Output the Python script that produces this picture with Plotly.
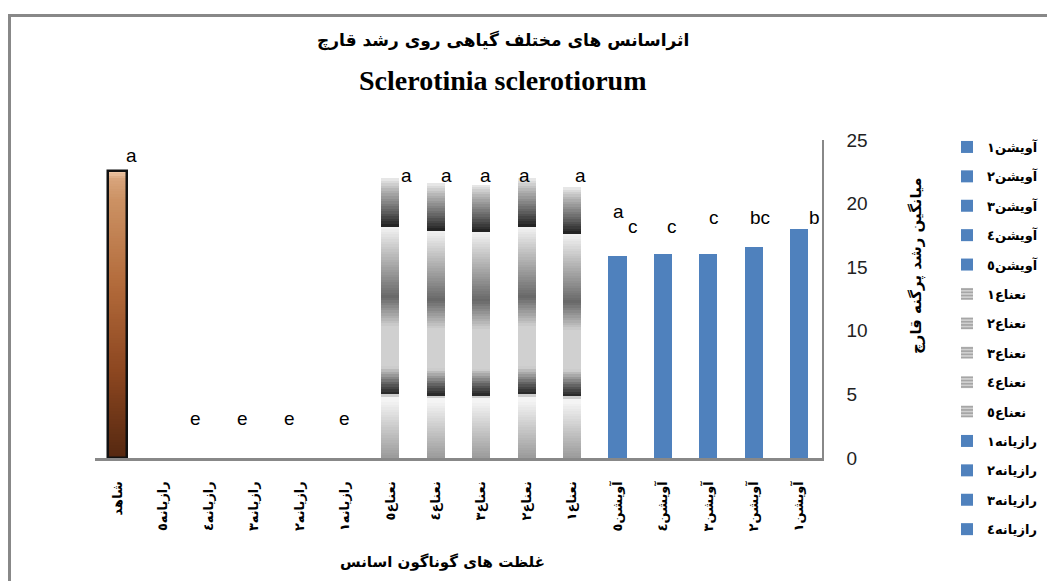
import plotly.graph_objects as go

# ---------------- data ----------------
control_label = "شاهد"
control_value = 22.6

fennel_labels = ["رازیانه٥", "رازیانه٤", "رازیانه٣", "رازیانه٢", "رازیانه١"]
fennel_values = [0, 0, 0, 0, 0]

mint_labels = ["نعناع٥", "نعناع٤", "نعناع٣", "نعناع٢", "نعناع١"]
mint_values = [22.0, 21.6, 21.5, 22.0, 21.3]

thyme_labels = ["آویشن٥", "آویشن٤", "آویشن٣", "آویشن٢", "آویشن١"]
thyme_values = [15.9, 16.0, 16.0, 16.6, 18.0]

# significance letters (text, x index on category axis, y value)
letter_text = ["a", "e", "e", "e", "e", "a", "a", "a", "a", "a", "a", "c", "c", "c", "bc", "b"]
letter_x = [0.31, 1.72, 2.75, 3.79, 5.0, 6.36, 7.24, 8.10, 8.96, 10.19, 11.03, 11.33, 12.19, 13.12, 14.13, 15.34]
letter_y = [23.8, 3.1, 3.1, 3.1, 3.1, 22.2, 22.2, 22.2, 22.2, 22.2, 19.4, 18.2, 18.2, 18.9, 18.9, 18.9]

title_fa = "اثراسانس های مختلف گیاهی روی رشد قارچ"
title_en = "Sclerotinia sclerotiorum"
x_title = "غلظت های گوناگون اسانس"
y_title = "میانگین رشد پرگنه قارچ"

categories = [control_label] + fennel_labels + mint_labels + thyme_labels

# ---------------- styles ----------------
BLUE = "#4f81bd"
FA_FONT = "DejaVu Sans"
BAR_W = 0.4


def lerp_color(stops, t):
    for (t0, c0), (t1, c1) in zip(stops, stops[1:]):
        if t0 <= t <= t1:
            f = 0 if t1 == t0 else (t - t0) / (t1 - t0)
            c = [round(a + (b - a) * f) for a, b in zip(c0, c1)]
            return "rgb(%d,%d,%d)" % tuple(c)
    c = stops[-1][1]
    return "rgb(%d,%d,%d)" % tuple(c)


def g(v):
    return (v, v, v)


mint_stops = [(0.0, g(0x9a)), (0.205, g(0xf4)), (0.222, g(0xf4)), (0.226, g(0x22)),
              (0.26, g(0x55)), (0.325, g(0xd0)), (0.47, g(0xd0)), (0.575, g(0x68)),
              (0.82, g(0xf0)), (0.826, g(0xf0)), (0.830, g(0x22)), (0.88, g(0x60)),
              (0.96, g(0xb8)), (1.0, g(0xec))]
brown_stops = [(0.0, (0x55, 0x28, 0x10)), (0.3, (0x8c, 0x46, 0x20)), (0.6, (0xb2, 0x6a, 0x3a)),
               (0.9, (0xcc, 0x92, 0x64)), (0.97, (0xd8, 0xa4, 0x7c)), (1.0, (0xf2, 0xcc, 0xac))]

fig = go.Figure()

# legend-bearing series (Excel-like: one series per category), in legend order
rank = 1
for lab, val in zip(thyme_labels[::-1], thyme_values[::-1]):
    fig.add_trace(go.Bar(x=[lab], y=[val], name=lab, width=BAR_W, marker_color=BLUE,
                         marker_line_width=0, legendgroup=lab, legendrank=rank))
    rank += 1
for lab, val in zip(mint_labels[::-1], mint_values[::-1]):
    fig.add_trace(go.Bar(x=[lab], y=[val], name=lab, width=BAR_W,
                         marker=dict(color="#c8c8c8", line_width=0,
                                     pattern=dict(shape="-", fgcolor="#666666", bgcolor="#d0d0d0",
                                                  size=4, solidity=0.4)),
                         legendgroup=lab, legendrank=rank))
    rank += 1
for i, (lab, val) in enumerate(zip(fennel_labels[::-1], fennel_values[::-1])):
    fig.add_trace(go.Bar(x=[lab], y=[val], name=lab, width=BAR_W, marker_color=BLUE,
                         marker_line_width=0, legendgroup=lab, legendrank=rank,
                         showlegend=(i < 4)))
    rank += 1
fig.add_trace(go.Bar(x=[control_label], y=[control_value], name=control_label, width=0.42,
                     marker_color="#a05a30", marker_line_width=0, showlegend=False))

# gradient overlays derived from the bar values
N = 110
for i in range(N):
    t0, t1 = i / N, (i + 1) / N
    tm = (t0 + t1) / 2
    top = min(t1 + 0.6 / N, 1.0)
    fig.add_trace(go.Bar(x=mint_labels, base=[v * t0 for v in mint_values],
                         y=[v * (top - t0) for v in mint_values], width=BAR_W,
                         marker_color=lerp_color(mint_stops, tm), marker_line_width=0,
                         showlegend=False, hoverinfo="skip"))
    fig.add_trace(go.Bar(x=[control_label], base=[control_value * t0],
                         y=[control_value * (top - t0)], width=0.38,
                         marker_color=lerp_color(brown_stops, tm), marker_line_width=0,
                         showlegend=False, hoverinfo="skip"))

# outline of control bar
fig.add_trace(go.Bar(x=[control_label], y=[control_value], width=0.42,
                     marker=dict(color="rgba(0,0,0,0)", line=dict(color="#111111", width=2.5)),
                     showlegend=False, hoverinfo="skip"))

for txt, xv, yv in zip(letter_text, letter_x, letter_y):
    fig.add_annotation(x=xv, y=yv, xref="x", yref="y", text=txt, showarrow=False,
                       font=dict(family="Liberation Sans", size=19, color="#000000"),
                       xanchor="center", yanchor="middle")

# page is offset by the browser's default 8px body margin
OFF = 8
W, H = 1055, 581
PL, PR, PT, PB = 95, 822, 140, 458  # plot area in page pixels
L, T = PL - OFF, PT - OFF
pw, ph = PR - PL, PB - PT
R = W - L - pw
B = H - T - ph


def px_x(px):
    return (px - PL) / pw


def px_y(py):
    return (PB - py) / ph


fig.add_annotation(x=px_x(503), y=px_y(41), xref="paper", yref="paper", text=title_fa,
                   showarrow=False, xanchor="center", yanchor="middle",
                   font=dict(family=FA_FONT, size=17, color="#000", weight="bold"))
fig.add_annotation(x=px_x(502), y=px_y(80), xref="paper", yref="paper", text=title_en,
                   showarrow=False, xanchor="center", yanchor="middle",
                   font=dict(family="Liberation Serif", size=28, color="#000", weight="bold"))
fig.add_annotation(x=px_x(442), y=px_y(562), xref="paper", yref="paper", text=x_title,
                   showarrow=False, xanchor="center", yanchor="middle",
                   font=dict(family=FA_FONT, size=15, color="#000", weight="bold"))
fig.add_annotation(x=px_x(916), y=px_y(266), xref="paper", yref="paper", text=y_title,
                   showarrow=False, xanchor="center", yanchor="middle", textangle=-90,
                   font=dict(family=FA_FONT, size=15, color="#000", weight="bold"))

# outer chart frame (clipped by the window on right/bottom, like the reference)
fig.add_shape(type="rect", xref="paper", yref="paper",
              x0=px_x(9.5), y0=px_y(15.5), x1=px_x(1200), y1=px_y(700),
              line=dict(color="#888888", width=3), fillcolor="rgba(0,0,0,0)", layer="below")

fig.update_layout(
    width=W, height=H, autosize=False,
    margin=dict(l=L, r=R, t=T, b=B, pad=0),
    paper_bgcolor="white", plot_bgcolor="white",
    barmode="overlay", bargap=0,
    showlegend=True,
    legend=dict(x=px_x(947), y=px_y(132), xanchor="left", yanchor="top",
                traceorder="grouped", tracegroupgap=9.5, maxheight=520,
                font=dict(family=FA_FONT, size=13, color="#000", weight="bold"),
                bgcolor="rgba(0,0,0,0)", itemwidth=30),
    xaxis=dict(type="category", categoryorder="array", categoryarray=categories,
               range=[-0.5, len(categories) - 0.5],
               showline=True, linecolor="#888888", linewidth=3, showgrid=False,
               ticks="", tickangle=-90, ticklabelstandoff=15,
               tickfont=dict(family=FA_FONT, size=13, color="#000", weight="bold")),
    yaxis=dict(side="right", range=[0, 25], dtick=5, showline=True, linecolor="#888888",
               linewidth=1.5, showgrid=False, zeroline=False, ticks="",
               ticklabelstandoff=19,
               tickfont=dict(family="Liberation Sans Narrow, Liberation Sans", size=19, color="#222")),
)

fig.write_html("out.html")
